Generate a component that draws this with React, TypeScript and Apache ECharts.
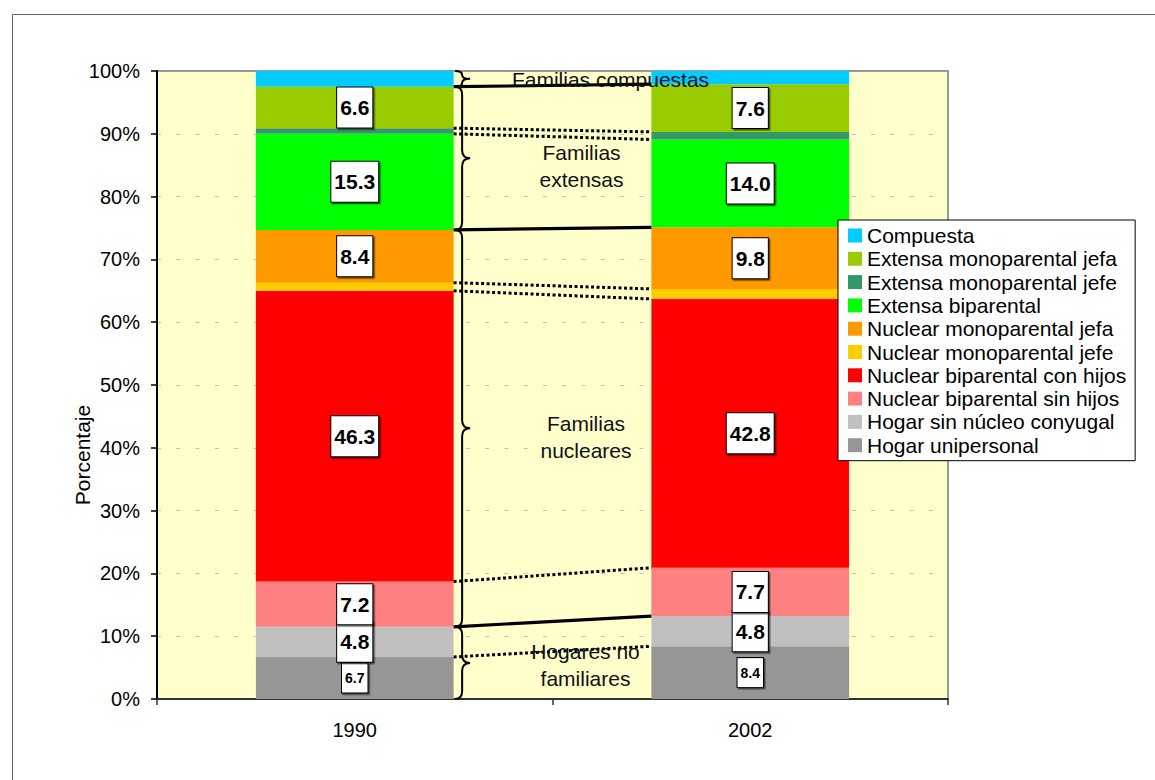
import React, { useEffect, useRef } from "react";
import * as echarts from "echarts";

const FONT = '"Liberation Sans", Arial, Helvetica, sans-serif';

// ---- data ----
const categories = ["1990", "2002"];
const seriesNames = [
  "Hogar unipersonal",
  "Hogar sin núcleo conyugal",
  "Nuclear biparental sin hijos",
  "Nuclear biparental con hijos",
  "Nuclear monoparental jefe",
  "Nuclear monoparental jefa",
  "Extensa biparental",
  "Extensa monoparental jefe",
  "Extensa monoparental jefa",
  "Compuesta",
];
const values1990 = [6.7, 4.8, 7.2, 46.3, 1.3, 8.4, 15.3, 0.9, 6.6, 2.5];
const values2002 = [8.4, 4.8, 7.7, 42.8, 1.6, 9.8, 14.0, 1.2, 7.6, 2.1];
const yTicks = [0, 10, 20, 30, 40, 50, 60, 70, 80, 90, 100];

// groups: label, first series index, last series index (exclusive)
const groupLabels = ["Hogares no\nfamiliares", "Familias\nnucleares", "Familias\nextensas", "Familias compuestas"];
const groupStarts = [0, 2, 6, 9];
const groupEnds = [2, 6, 9, 10];

// ---- styles ----
const colors = [
  "#969696",
  "#C0C0C0",
  "#FF8080",
  "#FF0000",
  "#FFCC00",
  "#FF9900",
  "#00FF00",
  "#339966",
  "#99CC00",
  "#00CCFF",
];
const labelKind = ["small", "big", "big", "big", "none", "big", "big", "none", "big", "none"];
const groupTextDx = [33, 33.5, 29, 58];
const groupTextDy = [2, 9, 8, 0.5];
const BAR_RATIO = 0.5;

function cumulative(vals: number[]) {
  const out: number[] = [0];
  let s = 0;
  for (const v of vals) {
    s += v;
    out.push(Math.round(s * 100) / 100);
  }
  return out;
}

export default function App() {
  const ref = useRef<HTMLDivElement>(null);

  useEffect(() => {
    if (!ref.current) return;
    const chart = echarts.init(ref.current, null, { renderer: "svg" });

    const cum1990 = cumulative(values1990);
    const cum2002 = cumulative(values2002);
    const groupBoundaries = new Set(groupStarts.slice(1));

    const boundaryData: number[][] = [];
    for (let k = 1; k < seriesNames.length; k++) {
      boundaryData.push([0, cum1990[k], cum2002[k], groupBoundaries.has(k) ? 1 : 0]);
    }
    const braceData = groupLabels.map((_, i) => [0, cum1990[groupStarts[i]], cum1990[groupEnds[i]], i]);

    const barSeries = seriesNames.map((name, i) => {
      const kind = labelKind[i];
      const big = kind === "big";
      return {
        name,
        type: "bar",
        stack: "total",
        barWidth: "50%",
        data: [values1990[i], values2002[i]],
        itemStyle: { color: colors[i] },
        label: {
          show: kind !== "none",
          position: "inside",
          formatter: (p: any) => Number(p.value).toFixed(1),
          color: "#000",
          fontFamily: FONT,
          fontWeight: "bold",
          fontSize: big ? 21 : 14,
          lineHeight: big ? 21 : 14,
          backgroundColor: "#fff",
          borderColor: "#000",
          borderWidth: 1,
          padding: big ? [10, 3, 9, 3] : [8, 3, 7, 3],
          shadowColor: "rgba(0,0,0,0.55)",
          shadowBlur: 1,
          shadowOffsetX: 1.5,
          shadowOffsetY: 1.5,
        },
        emphasis: { disabled: true },
      };
    });

    const option: any = {
      animation: false,
      textStyle: { fontFamily: FONT },
      grid: {
        left: 157,
        right: 207,
        top: 71,
        bottom: 81,
        show: true,
        backgroundColor: "#FFFFCC",
        borderColor: "#999",
        borderWidth: 2,
      },
      legend: {
        orient: "vertical",
        left: 838,
        top: 220,
        data: [...seriesNames].reverse(),
        icon: "rect",
        itemWidth: 14,
        itemHeight: 14,
        itemGap: 2.3,
        padding: [5, 9, 5, 10],
        borderColor: "#000",
        borderWidth: 1,
        backgroundColor: "#fff",
        selectedMode: false,
        textStyle: { fontSize: 21, lineHeight: 21, color: "#000", fontFamily: FONT },
      },
      xAxis: {
        type: "category",
        data: categories,
        axisLine: { lineStyle: { color: "#333", width: 2 } },
        axisTick: { show: true, length: 6, lineStyle: { color: "#333", width: 1.5 } },
        axisLabel: { fontSize: 20, color: "#000", margin: 21, fontFamily: FONT },
        splitLine: { show: false },
      },
      yAxis: {
        type: "value",
        min: yTicks[0],
        max: yTicks[yTicks.length - 1],
        interval: yTicks[1] - yTicks[0],
        axisLine: { show: true, lineStyle: { color: "#000", width: 2 } },
        axisTick: { show: true, length: 6, lineStyle: { color: "#000", width: 1.5 } },
        axisLabel: { formatter: "{value}%", fontSize: 20, color: "#000", margin: 17, fontFamily: FONT },
        splitLine: {
          show: true,
          showMinLine: false,
          showMaxLine: false,
          lineStyle: { color: "#c0c0c0", width: 1, type: [4, 15.3] },
        },
      },
      graphic: [
        {
          type: "rect",
          left: 10,
          top: 12,
          silent: true,
          shape: { width: 1170, height: 800 },
          style: { fill: "none", stroke: "#666", lineWidth: 1 },
        },
        {
          type: "text",
          x: 82,
          y: 455,
          rotation: Math.PI / 2,
          silent: true,
          style: {
            text: "Porcentaje",
            fontSize: 21,
            fontFamily: FONT,
            fill: "#000",
            align: "center",
            verticalAlign: "middle",
            textAlign: "center",
            textVerticalAlign: "middle",
          },
        },
      ],
      series: [
        ...barSeries,
        {
          name: "connectors",
          type: "custom",
          z: 5,
          silent: true,
          encode: { x: 0, y: [1, 2] },
          data: boundaryData,
          renderItem: (params: any, api: any) => {
            const a = api.value(1);
            const b = api.value(2);
            const solid = api.value(3) === 1;
            const band = api.size([1, 0])[0];
            const half = (band * BAR_RATIO) / 2;
            const p1 = api.coord([0, a]);
            const p2 = api.coord([1, b]);
            return {
              type: "line",
              shape: { x1: p1[0] + half, y1: p1[1], x2: p2[0] - half, y2: p2[1] },
              style: solid
                ? { stroke: "#000", lineWidth: 3.2 }
                : { stroke: "#000", lineWidth: 3, lineDash: [3, 2.5] },
            };
          },
        },
        {
          name: "braces",
          type: "custom",
          z: 6,
          silent: true,
          encode: { x: 0, y: [1, 2] },
          data: braceData,
          renderItem: (params: any, api: any) => {
            const from = api.value(1);
            const to = api.value(2);
            const idx = api.value(3);
            const band = api.size([1, 0])[0];
            const half = (band * BAR_RATIO) / 2;
            const pTop = api.coord([0, to]);
            const pBot = api.coord([0, from]);
            const pOther = api.coord([1, (from + to) / 2]);
            const x0 = pTop[0] + half + 1.5;
            const xm = x0 + 7;
            const xt = x0 + 15;
            const y0 = pTop[1];
            const y1 = pBot[1];
            const ym = (y0 + y1) / 2;
            const r = Math.min(8, (y1 - y0) / 4);
            const d =
              `M${x0},${y0} Q${xm},${y0} ${xm},${y0 + r} L${xm},${ym - r} ` +
              `Q${xm},${ym} ${xt},${ym} Q${xm},${ym} ${xm},${ym + r} ` +
              `L${xm},${y1 - r} Q${xm},${y1} ${x0},${y1}`;
            const gapCenter = (pTop[0] + half + pOther[0] - half) / 2;
            return {
              type: "group",
              children: [
                {
                  type: "path",
                  shape: { pathData: d },
                  style: { stroke: "#000", lineWidth: 2, fill: "none" },
                },
                {
                  type: "text",
                  x: gapCenter + groupTextDx[idx],
                  y: ym + groupTextDy[idx],
                  style: {
                    text: groupLabels[idx],
                    fill: "#111",
                    fontSize: 21,
                    fontFamily: FONT,
                    lineHeight: 27,
                    align: "center",
                    verticalAlign: "middle",
                  },
                },
              ],
            };
          },
        },
      ],
    };

    chart.setOption(option);
    return () => chart.dispose();
  }, []);

  return (
    <div
      ref={ref}
      style={{ position: "absolute", left: 0, top: 0, width: 1155, height: 780, background: "#fff" }}
    />
  );
}
